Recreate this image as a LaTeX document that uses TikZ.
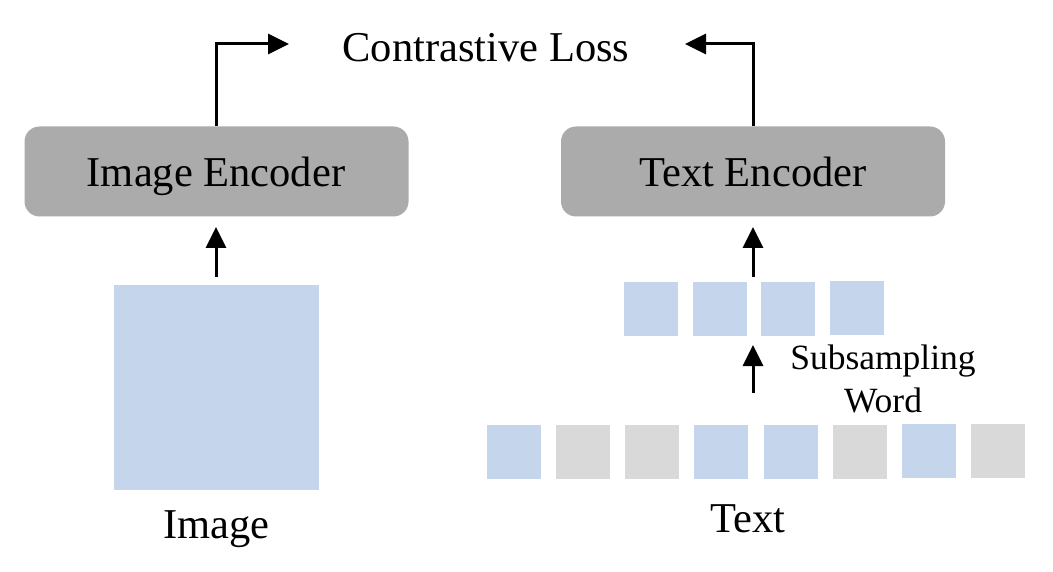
\documentclass[tikz,border=0pt]{standalone}
\usepackage{fontspec}
\setmainfont{Liberation Serif}
\usetikzlibrary{arrows.meta}
\definecolor{encgray}{HTML}{ABABAB}
\definecolor{tokblue}{HTML}{C5D5EC}
\definecolor{tokgray}{HTML}{D9D9D9}
\tikzset{
  encbox/.style={fill=encgray,draw=none,rounded corners=15pt,minimum width=384pt,minimum height=90pt,inner sep=0pt},
  maintext/.style={font=\fontsize{42.5}{50}\selectfont,inner sep=0pt,anchor=base},
  smalltext/.style={font=\fontsize{35.5}{42}\selectfont,inner sep=0pt,align=center},
  tokb/.style={fill=tokblue,draw=none,minimum size=54pt,inner sep=0pt},
  tokg/.style={fill=tokgray,draw=none,minimum size=54pt,inner sep=0pt},
  flow/.style={line width=3pt,-{Triangle[length=21pt,width=20pt]}},
}
\begin{document}
\begin{tikzpicture}[x=1pt,y=-1pt]
\useasboundingbox (0,0) rectangle (1053,572);
% encoders
\node[encbox] (ienc) at (216.5,171.5) {};
\node[encbox] (tenc) at (753,171.5) {};
\node[maintext] (ilab) at (216,187) {Image Encoder};
\node[maintext] (tlab) at (753,187) {Text Encoder};
% loss
\node[maintext] (loss) at (486,62) {Contrastive Loss};
\coordinate (lcornL) at (216,44);
\coordinate (lcornR) at (753,44);
\coordinate (ltipL) at (289,44);
\coordinate (ltipR) at (685,44);
\draw[flow] (ienc.north -| lcornL) -- (lcornL) -- (ltipL);
\draw[flow] (tenc.north -| lcornR) -- (lcornR) -- (ltipR);
% image
\node[fill=tokblue,draw=none,minimum size=205pt,inner sep=0pt] (img) at (216.5,387.5) {};
\node[maintext] (imglab) at (216.5,538) {Image};
\coordinate (iarrtail) at (216,277);
\coordinate (iarrtip) at (216,227);
\draw[flow] (iarrtail) -- (iarrtip);
% top row tokens
\node[tokb] (t1) at (651,309) {};
\node[tokb] (t2) at (720,309) {};
\node[tokb] (t3) at (788,309) {};
\node[tokb] (t4) at (857,308) {};
\coordinate (tarrtail) at (753,277);
\coordinate (tarrtip) at (753,227);
\draw[flow] (tarrtail) -- (tarrtip);
% subsampling arrow
\coordinate (sarrtail) at (753,393);
\coordinate (sarrtip) at (753,345);
\draw[flow] (sarrtail) -- (sarrtip);
\node[smalltext,anchor=base] (sub1) at (883,370) {Subsampling};
\node[smalltext,anchor=base] (sub2) at (883,412) {Word};
% bottom row tokens
\node[tokb] (b1) at (514,452) {};
\node[tokg] (b2) at (583,452) {};
\node[tokg] (b3) at (652,452) {};
\node[tokb] (b4) at (721,452) {};
\node[tokb] (b5) at (791,452) {};
\node[tokg] (b6) at (860,452) {};
\node[tokb] (b7) at (929,451) {};
\node[tokg] (b8) at (998,451) {};
\node[maintext] (txtlab) at (748,532) {Text};
\end{tikzpicture}
\end{document}
